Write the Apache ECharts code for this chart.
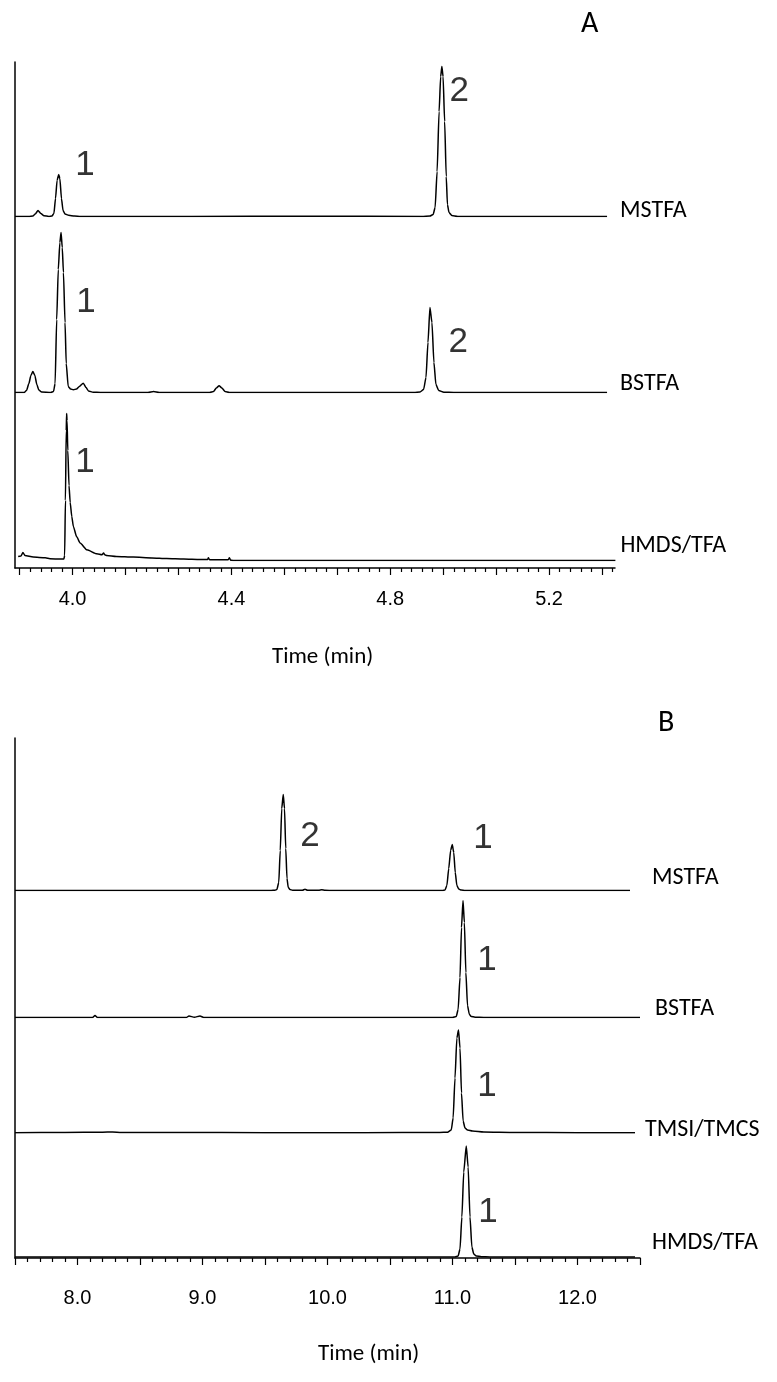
<!DOCTYPE html>
<html>
<head>
<meta charset="utf-8">
<script src="https://cdn.jsdelivr.net/npm/echarts@6/dist/echarts.min.js"></script>
<style>
  html, body { margin: 0; padding: 0; background: #fff; }
  #main { width: 777px; height: 1382px; }
</style>
</head>
<body>
<div id="main"></div>
<script>
// ---- panel A chromatograms: [time (min), intensity] ----
var aMstfa = [[3.855,0],[3.890,0],[3.900,0.5],[3.906,2.5],[3.913,6],[3.920,3],[3.928,0.8],[3.940,0],[3.948,0.5],[3.953,3],[3.957,18],[3.961,36],[3.965,42],[3.968,38],[3.972,18],[3.976,6],[3.981,2.5],[3.990,1.2],[4.005,0.5],[4.020,0],
  [4.300,0],[4.600,0.3],[4.880,0],[4.900,0.5],[4.908,2],[4.913,9],[4.918,45],[4.923,105],[4.927,140],[4.930,150],[4.933,140],[4.937,95],[4.941,40],[4.944,12],[4.948,4],[4.955,1],[4.970,0],[5.346,0]];
var aBstfa = [[3.855,0],[3.878,0],[3.884,2],[3.890,9],[3.895,17],[3.900,21],[3.905,17],[3.910,8],[3.915,2.5],[3.922,0.5],[3.945,0],[3.952,1],[3.956,9],[3.960,73],[3.964,123],[3.968,150],[3.971,160],[3.974,145],[3.977,120],[3.981,70],[3.984,29],[3.989,6],[3.995,3.5],[4.002,2.7],[4.010,3.5],[4.017,6],[4.027,9.3],[4.034,5],[4.040,1.5],[4.052,0.3],[4.070,0],
  [4.190,0],[4.204,1],[4.218,0],[4.345,0],[4.355,1],[4.362,4.5],[4.369,6.7],[4.376,4.5],[4.384,1],[4.395,0],
  [4.860,0],[4.875,0.5],[4.884,3],[4.890,15],[4.895,50],[4.900,85],[4.905,70],[4.910,30],[4.915,8],[4.922,2],[4.935,0.3],[4.960,0],[5.346,0]];
var aHmds = [[3.863,4],[3.870,4.5],[3.875,8],[3.880,5],[3.901,3.4],[3.931,2.7],[3.943,1.8],[3.970,1.4],[3.978,1.4],[3.980,5],[3.982,60],[3.984,130],[3.985,147],[3.986,140],[3.988,110],[3.991,75],[3.994,58],[3.998,44],[4.002,34],[4.010,24],[4.019,17.4],[4.036,10.7],[4.061,6.7],[4.074,5.7],[4.078,7.4],[4.082,5.5],[4.086,5],[4.110,4],[4.153,3.4],[4.200,2.6],[4.237,2],[4.280,1.5],[4.321,1],[4.340,1],[4.342,2.7],[4.345,0.8],[4.354,0.7],[4.392,0.7],[4.395,2.7],[4.398,0.3],[4.404,0],[5.367,0]];

// ---- panel B chromatograms ----
var bMstfa = [[7.5,0],[9.55,0],[9.58,0.3],[9.595,1],[9.61,8],[9.622,40],[9.634,82],[9.646,96],[9.656,82],[9.666,42],[9.676,12],[9.686,3],[9.70,1],[9.72,0.3],[9.80,0.3],[9.82,1.2],[9.84,0.3],[9.93,0.3],[9.954,0.8],[9.98,0.2],[10.05,0],
  [10.92,0],[10.94,0.5],[10.955,5],[10.97,22],[10.985,40],[10.998,46],[11.01,38],[11.022,18],[11.035,5],[11.05,1.5],[11.07,0.4],[11.10,0],[12.42,0]];
var bBstfa = [[7.5,0],[8.12,0],[8.14,2],[8.16,0],[8.87,0],[8.892,1.5],[8.935,0.3],[8.98,1.5],[9.01,0],
  [11.00,0],[11.03,1],[11.045,8],[11.06,40],[11.072,90],[11.084,117],[11.095,95],[11.107,45],[11.12,12],[11.135,3],[11.15,1],[11.18,0.3],[11.25,0],[12.5,0]];
var bTmsi = [[7.5,0.3],[7.9,0.5],[8.2,0.8],[8.28,1],[8.35,0.6],[8.8,0.5],[9.5,0.3],[10.3,0.3],[10.9,0.5],[10.96,0.8],[10.99,3],[11.005,15],[11.02,55],[11.035,95],[11.048,103],[11.06,85],[11.072,40],[11.085,12],[11.1,5],[11.12,3],[11.16,2],[11.25,1],[11.5,0.5],[12.0,0.3],[12.46,0.3]];
var bHmds = [[7.5,0],[10.9,0],[11.02,0],[11.045,1],[11.06,8],[11.075,40],[11.09,85],[11.11,111],[11.125,90],[11.14,40],[11.155,10],[11.17,3],[11.19,1],[11.23,0.3],[11.3,0],[12.46,0]];

// ---- peak numbers: [time, intensity, text] ----
var aMstfaPeaks = [[4.031,51,'1'],[4.974,125,'2']];
var aBstfaPeaks = [[4.034,90,'1'],[4.971,50,'2']];
var aHmdsPeaks = [[4.031,98,'1']];
var bMstfaPeaks = [[9.86,54,'2'],[11.244,52,'1']];
var bBstfaPeaks = [[11.276,57,'1']];
var bTmsiPeaks = [[11.276,47,'1']];
var bHmdsPeaks = [[11.284,45,'1']];

// ---- axis ticks ----
var aMajorTicks = [3.8667,4.0,4.1333,4.2667,4.4,4.5333,4.6667,4.8,4.9333,5.0667,5.2,5.3333];
var aTickLabels = [4.0,4.4,4.8,5.2];
var bTickLabels = [8.0,9.0,10.0,11.0,12.0];

var aMinorTicks = [];
for (var i = 0; i < aMajorTicks.length; i++) {
  var step = 0.13333 / 5;
  for (var k = 1; k < 5; k++) {
    var v = aMajorTicks[i] + k * step;
    if (v < 5.366) aMinorTicks.push(v);
  }
}

var labelFont = "Carlito, Lato, 'Open Sans', sans-serif";
var numFont = "'Liberation Sans', Arial, sans-serif";

var panels = [
  {
    left: 15, width: 600, top: 62, bottom: 568, min: 3.855, max: 5.366,
    traces: [
      { name: 'MSTFA', data: aMstfa, peaks: aMstfaPeaks, base: 216.5, h: 160, dx: 13, dy: -6 },
      { name: 'BSTFA', data: aBstfa, peaks: aBstfaPeaks, base: 392.5, h: 170, dx: 13, dy: -9 },
      { name: 'HMDS/TFA', data: aHmds, peaks: aHmdsPeaks, base: 560.5, h: 160, dx: 5, dy: -15 }
    ]
  },
  {
    left: 15, width: 625, top: 738, bottom: 1258, min: 7.5, max: 12.5,
    traces: [
      { name: 'MSTFA', data: bMstfa, peaks: bMstfaPeaks, base: 890.5, h: 110, dx: 22, dy: -13 },
      { name: 'BSTFA', data: bBstfa, peaks: bBstfaPeaks, base: 1017.5, h: 130, dx: 15, dy: -9 },
      { name: 'TMSI/TMCS', data: bTmsi, peaks: bTmsiPeaks, base: 1133, h: 120, dx: 10, dy: -3 },
      { name: 'HMDS/TFA', data: bHmds, peaks: bHmdsPeaks, base: 1257, h: 120, dx: 17, dy: -14 }
    ]
  }
];

var grid = [], xAxis = [], yAxis = [], series = [];

panels.forEach(function (p, pi) {
  // frame grid holding the visible axes
  grid.push({ left: p.left, width: p.width, top: p.top, height: p.bottom - p.top });
  var g = grid.length - 1;
  var tickLine = { color: '#000', width: 1.2 };
  var labelStyle = { color: '#000', fontSize: 20, fontFamily: numFont, formatter: function (v) { return v.toFixed(1); } };
  if (pi === 0) {
    xAxis.push({
      gridIndex: g, type: 'value', position: 'bottom', min: p.min, max: p.max,
      axisLine: { lineStyle: { color: '#000', width: 1.5 } },
      axisTick: { customValues: aMajorTicks, length: 7, lineStyle: tickLine },
      axisLabel: Object.assign({ customValues: aTickLabels, margin: 21 }, labelStyle),
      splitLine: { show: false }
    });
    xAxis.push({
      gridIndex: g, type: 'value', position: 'bottom', min: p.min, max: p.max,
      axisLine: { show: false },
      axisTick: { customValues: aMinorTicks, length: 4, lineStyle: tickLine },
      axisLabel: { show: false },
      splitLine: { show: false }
    });
  } else {
    xAxis.push({
      gridIndex: g, type: 'value', position: 'bottom', min: p.min, max: p.max, interval: 0.5,
      axisLine: { lineStyle: { color: '#000', width: 1.5 } },
      axisTick: { length: 7, lineStyle: tickLine },
      minorTick: { show: true, splitNumber: 5, length: 4, lineStyle: tickLine },
      axisLabel: Object.assign({ customValues: bTickLabels, margin: 30 }, labelStyle),
      splitLine: { show: false }
    });
  }
  yAxis.push({
    gridIndex: g, type: 'value', min: 0, max: 1,
    axisLine: { show: true, lineStyle: { color: '#000', width: 1.5 } },
    axisTick: { show: false }, axisLabel: { show: false }, splitLine: { show: false }
  });

  p.traces.forEach(function (t) {
    grid.push({ left: p.left, width: p.width, top: t.base - t.h, height: t.h });
    var tg = grid.length - 1;
    xAxis.push({ gridIndex: tg, type: 'value', min: p.min, max: p.max, show: false });
    yAxis.push({ gridIndex: tg, type: 'value', min: 0, max: t.h, show: false });
    var xi = xAxis.length - 1, yi = yAxis.length - 1;
    series.push({
      type: 'line', name: t.name, xAxisIndex: xi, yAxisIndex: yi,
      data: t.data, showSymbol: false, symbol: 'none',
      smooth: 0.2, smoothMonotone: 'x',
      lineStyle: { color: '#000', width: 1.5 },
      endLabel: {
        show: true, formatter: '{a}', color: '#000', fontSize: 24,
        fontFamily: labelFont, distance: t.dx, offset: [0, t.dy]
      },
      silent: true
    });
    series.push({
      type: 'scatter', xAxisIndex: xi, yAxisIndex: yi,
      data: t.peaks, symbolSize: 1, itemStyle: { color: 'rgba(0,0,0,0)' },
      label: {
        show: true, position: 'inside', color: '#000', fontSize: 35, fontFamily: numFont,
        textBorderWidth: 0, formatter: function (d) { return d.data[2]; }
      },
      silent: true
    });
  });
});

var chart = echarts.init(document.getElementById('main'));
chart.setOption({
  animation: false,
  backgroundColor: '#fff',
  grid: grid,
  xAxis: xAxis,
  yAxis: yAxis,
  series: series,
  graphic: [
    { type: 'text', left: 581, top: 9, style: { text: 'A', fontSize: 30, fontFamily: labelFont, fill: '#000' } },
    { type: 'text', left: 658, top: 708, style: { text: 'B', fontSize: 30, fontFamily: labelFont, fill: '#000' } },
    { type: 'text', left: 272, top: 646, style: { text: 'Time (min)', fontSize: 23, fontFamily: labelFont, fill: '#000' } },
    { type: 'text', left: 318, top: 1343, style: { text: 'Time (min)', fontSize: 23, fontFamily: labelFont, fill: '#000' } }
  ]
});
</script>
</body>
</html>
